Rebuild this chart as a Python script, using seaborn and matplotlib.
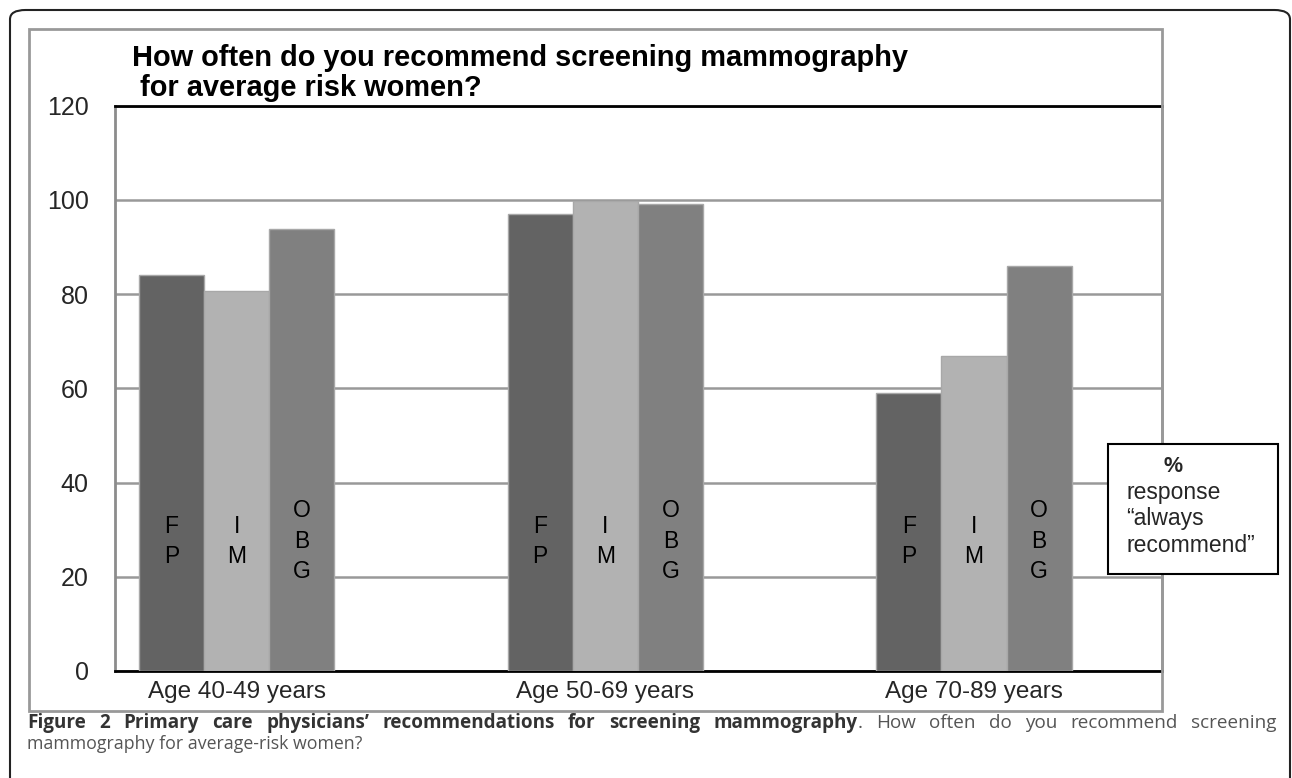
import pandas as pd
import matplotlib.pyplot as plt
import seaborn as sns
from matplotlib.patches import Rectangle, FancyBboxPatch

# Values (% answering "always recommend")
age_groups = ["Age 40-49 years", "Age 50-69 years", "Age 70-89 years"]
specialties = ["FP", "IM", "OBG"]
fp_values = [84, 97, 59]
im_values = [80.6, 99.8, 66.8]
obg_values = [93.7, 99, 86]
bar_letters = ["F\nP", "I\nM", "O\nB\nG"]
y_ticks = [0, 20, 40, 60, 80, 100, 120]

caption_bold = "Figure 2 Primary care physicians\u2019 recommendations for screening mammography"
caption_rest = ". How often do you recommend screening"
caption_line2 = "mammography for average-risk women?"

df = pd.DataFrame({
    "age": age_groups * 3,
    "specialty": [s for s in specialties for _ in age_groups],
    "pct": fp_values + im_values + obg_values,
})

sns.set_style("white")
plt.rcParams["font.family"] = ["Liberation Sans", "DejaVu Sans"]

fig = plt.figure(figsize=(12.92, 7.78), dpi=100)
W, H = 1292, 778

def fx(px):
    return px / W

def fy(py):
    return 1 - py / H

# outer rounded border (open at the bottom, runs off the page)
fig.patches.append(FancyBboxPatch((fx(10), -0.05), fx(1290) - fx(10), fy(10) + 0.05,
                                  boxstyle="round,pad=0,rounding_size=0.012",
                                  transform=fig.transFigure, fill=False,
                                  edgecolor="#222222", linewidth=1.5))
# chart frame
fig.patches.append(Rectangle((fx(29), fy(711)), fx(1162) - fx(29), fy(29) - fy(711),
                             transform=fig.transFigure, fill=False,
                             edgecolor="#999999", linewidth=2))

ax = fig.add_axes([fx(115), fy(671), fx(1162) - fx(115), fy(105.5) - fy(671)])

palette = {"FP": "#636363", "IM": "#b2b2b2", "OBG": "#808080"}
sns.barplot(data=df, x="age", y="pct", hue="specialty", hue_order=specialties,
            palette=palette, width=0.53, edgecolor="#a8a8a8", linewidth=1,
            saturation=1, legend=False, ax=ax, zorder=3)

# letters inside the bars
for container, letters in zip(ax.containers, bar_letters):
    for bar in container:
        ax.text(bar.get_x() + bar.get_width() / 2, 27.5, letters, ha="center", va="center",
                fontsize=16.5, linespacing=1.42, color="black", zorder=4)

ax.set_ylim(0, 120)
ax.set_xlim(-0.33, 2.51)
ax.set_yticks(y_ticks)
ax.yaxis.grid(True, color="#999999", linewidth=1.8, zorder=0)
ax.set_axisbelow(True)
ax.tick_params(axis="y", length=0, pad=19, labelsize=18)
ax.tick_params(axis="x", length=0, pad=7, labelsize=17.5)
ax.set_xlabel("")
ax.set_ylabel("")
ax.spines["top"].set_color("black")
ax.spines["bottom"].set_color("black")
ax.spines["left"].set_color("#8c8c8c")
ax.spines["right"].set_color("#999999")
for side in ["top", "bottom", "left", "right"]:
    ax.spines[side].set_linewidth(2)

# chart title
fig.text(fx(132), fy(73), "How often do you recommend screening mammography\n for average risk women?",
         ha="left", va="center", fontsize=20.9, fontweight="bold", linespacing=1.05, color="black")

# note box at the right
fig.patches.append(Rectangle((fx(1108), fy(574)), fx(1278) - fx(1108), fy(444) - fy(574),
                             transform=fig.transFigure, facecolor="white",
                             edgecolor="black", linewidth=1.5, zorder=5))
fig.text(fx(1173), fy(467), "%", ha="center", va="center", fontsize=15.5, fontweight="bold", zorder=6)
fig.text(fx(1126), fy(519), "response\n\u201calways\nrecommend\u201d", ha="left", va="center",
         fontsize=16.5, linespacing=1.22, zorder=6)

# figure caption, first line justified like the journal layout
cap_family = ["Open Sans", "DejaVu Sans"]
tokens = [(w, "bold", "#333333", False) for w in caption_bold.split()]
for i, w in enumerate(caption_rest.split()):
    tokens.append((w, "normal", "#555555", i == 0))

renderer = fig.canvas.get_renderer()
cap_texts = []
widths = []
for word, weight, color, _ in tokens:
    t = fig.text(0, fy(728), word, ha="left", va="baseline", fontsize=13.6,
                 fontweight=weight, color=color, family=cap_family)
    cap_texts.append(t)
    widths.append(t.get_window_extent(renderer).width)

n_gaps = sum(1 for k, tok in enumerate(tokens) if k > 0 and not tok[3])
gap = (1277 - 27 - sum(widths)) / n_gaps
x = 27.0
for k, (t, w, tok) in enumerate(zip(cap_texts, widths, tokens)):
    if k > 0 and not tok[3]:
        x += gap
    t.set_x(fx(x))
    x += w

fig.text(fx(27), fy(749), caption_line2, ha="left", va="baseline",
         fontsize=12.8, color="#555555", family=cap_family)

fig.savefig("out.png", dpi=100)
